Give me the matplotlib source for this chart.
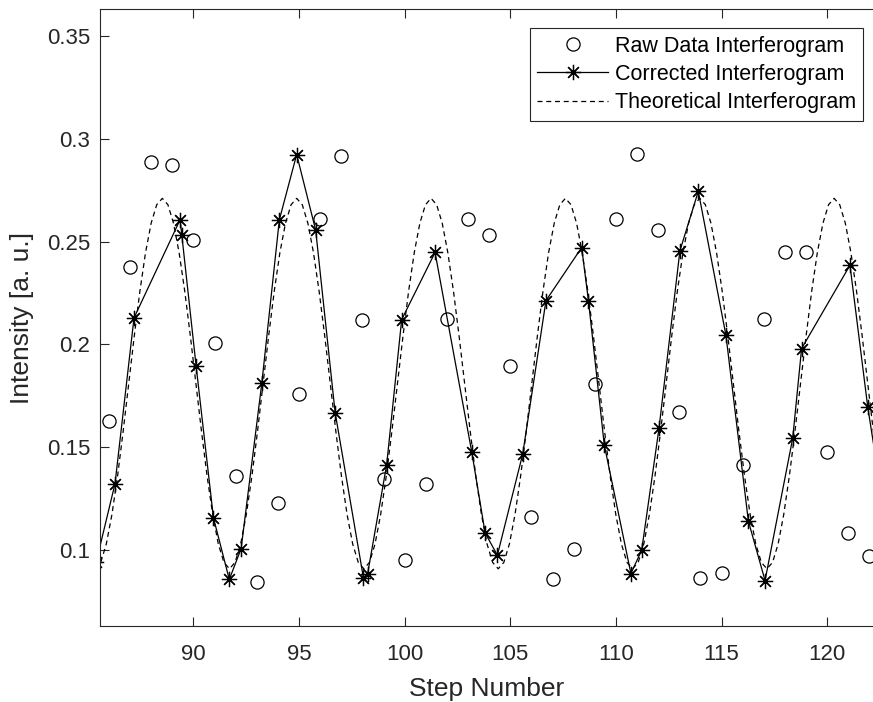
import numpy as np
import matplotlib.pyplot as plt

plt.rcParams['font.family'] = ['Liberation Sans', 'DejaVu Sans']

# Rohdaten (ganzzahlige Schritte)
raw_x = np.arange(86, 123)
raw_y = [0.1630, 0.2377, 0.2887, 0.2871, 0.2506, 0.2006, 0.1363, 0.0847, 0.1229,
         0.1758, 0.2611, 0.2914, 0.2121, 0.1347, 0.0955, 0.1323, 0.2124, 0.2608,
         0.2530, 0.1897, 0.1161, 0.0858, 0.1008, 0.1810, 0.2608, 0.2926, 0.2555,
         0.1671, 0.0866, 0.0890, 0.1416, 0.2124, 0.2450, 0.2450, 0.1476, 0.1084,
         0.0971]

# korrigiertes Interferogramm
corr_x = [85.40, 86.29, 87.19, 89.37, 89.45, 90.13, 90.95, 91.70, 92.26, 93.24,
          94.07, 94.89, 95.79, 96.71, 98.05, 98.25, 99.15, 99.86, 101.44, 103.18,
          103.81, 104.39, 105.59, 106.69, 108.38, 108.70, 109.45, 110.71, 111.22,
          112.04, 113.03, 113.90, 115.21, 116.27, 117.06, 118.37, 118.79, 121.08,
          121.92, 122.60]
corr_y = [0.0943, 0.1323, 0.2129, 0.2606, 0.2534, 0.1895, 0.1158, 0.0858, 0.1008,
          0.1812, 0.2606, 0.2923, 0.2555, 0.1669, 0.0866, 0.0887, 0.1416, 0.2121,
          0.2447, 0.1476, 0.1084, 0.0976, 0.1468, 0.2213, 0.2471, 0.2213, 0.1512,
          0.0887, 0.1000, 0.1592, 0.2455, 0.2744, 0.2044, 0.1142, 0.0853, 0.1545,
          0.1980, 0.2385, 0.1697, 0.1250]

# theoretisches Interferogramm (eine Periode pro Zeile)
theo_x = [85.35, 85.615, 85.88, 86.145, 86.41, 86.675, 86.94, 87.205, 87.47, 87.735, 88.00, 88.265,
          88.53, 88.795, 89.06, 89.325, 89.59, 89.855, 90.12, 90.385, 90.65, 90.915, 91.18, 91.445,
          91.71, 91.975, 92.24, 92.505, 92.77, 93.035, 93.30, 93.565, 93.83, 94.095, 94.36, 94.625,
          94.89, 95.155, 95.42, 95.685, 95.95, 96.215, 96.48, 96.745, 97.01, 97.275, 97.54, 97.805,
          98.07, 98.335, 98.60, 98.865, 99.13, 99.395, 99.66, 99.925, 100.19, 100.455, 100.72, 100.985,
          101.25, 101.515, 101.78, 102.045, 102.31, 102.575, 102.84, 103.105, 103.37, 103.635, 103.90, 104.165,
          104.43, 104.695, 104.96, 105.225, 105.49, 105.755, 106.02, 106.285, 106.55, 106.815, 107.08, 107.345,
          107.61, 107.875, 108.14, 108.405, 108.67, 108.935, 109.20, 109.465, 109.73, 109.995, 110.26, 110.525,
          110.79, 111.055, 111.32, 111.585, 111.85, 112.115, 112.38, 112.645, 112.91, 113.175, 113.44, 113.705,
          113.97, 114.235, 114.50, 114.765, 115.03, 115.295, 115.56, 115.825, 116.09, 116.355, 116.62, 116.885,
          117.15, 117.415, 117.68, 117.945, 118.21, 118.475, 118.74, 119.005, 119.27, 119.535, 119.80, 120.065,
          120.33, 120.595, 120.86, 121.125, 121.39, 121.655, 121.92, 122.185, 122.45]
theo_y = [0.0910, 0.0941, 0.1031, 0.1174, 0.1360, 0.1577, 0.1810, 0.2043, 0.2260, 0.2446, 0.2589, 0.2679,
          0.2710, 0.2679, 0.2589, 0.2446, 0.2260, 0.2043, 0.1810, 0.1577, 0.1360, 0.1174, 0.1031, 0.0941,
          0.0910, 0.0941, 0.1031, 0.1174, 0.1360, 0.1577, 0.1810, 0.2043, 0.2260, 0.2446, 0.2589, 0.2679,
          0.2710, 0.2679, 0.2589, 0.2446, 0.2260, 0.2043, 0.1810, 0.1577, 0.1360, 0.1174, 0.1031, 0.0941,
          0.0910, 0.0941, 0.1031, 0.1174, 0.1360, 0.1577, 0.1810, 0.2043, 0.2260, 0.2446, 0.2589, 0.2679,
          0.2710, 0.2679, 0.2589, 0.2446, 0.2260, 0.2043, 0.1810, 0.1577, 0.1360, 0.1174, 0.1031, 0.0941,
          0.0910, 0.0941, 0.1031, 0.1174, 0.1360, 0.1577, 0.1810, 0.2043, 0.2260, 0.2446, 0.2589, 0.2679,
          0.2710, 0.2679, 0.2589, 0.2446, 0.2260, 0.2043, 0.1810, 0.1577, 0.1360, 0.1174, 0.1031, 0.0941,
          0.0910, 0.0941, 0.1031, 0.1174, 0.1360, 0.1577, 0.1810, 0.2043, 0.2260, 0.2446, 0.2589, 0.2679,
          0.2710, 0.2679, 0.2589, 0.2446, 0.2260, 0.2043, 0.1810, 0.1577, 0.1360, 0.1174, 0.1031, 0.0941,
          0.0910, 0.0941, 0.1031, 0.1174, 0.1360, 0.1577, 0.1810, 0.2043, 0.2260, 0.2446, 0.2589, 0.2679,
          0.2710, 0.2679, 0.2589, 0.2446, 0.2260, 0.2043, 0.1810, 0.1577, 0.1360]

xticks = [90, 95, 100, 105, 110, 115, 120]
yticks = [0.1, 0.15, 0.2, 0.25, 0.3, 0.35]
ytick_labels = ['0.1', '0.15', '0.2', '0.25', '0.3', '0.35']

dark = '#262626'

fig = plt.figure(figsize=(8.73, 7.02), dpi=100)
ax = fig.add_axes([100/873, 1 - 626/702, 1 - 100/873, (626 - 9)/702])

ax.plot(raw_x, raw_y, linestyle='none', marker='o', markersize=9.5,
        markerfacecolor='none', markeredgecolor='k', markeredgewidth=0.9,
        label='Raw Data Interferogram')
ax.plot(corr_x, corr_y, color='k', linewidth=0.9, marker=(8, 2, 0),
        markersize=11, markeredgewidth=0.9, label='Corrected Interferogram')
ax.plot(theo_x, theo_y, color='k', linewidth=0.9, dashes=(4, 3),
        label='Theoretical Interferogram')

ax.set_xlim(85.58, 122.17)
ax.set_ylim(0.0632, 0.363)
ax.set_xticks(xticks)
ax.set_yticks(yticks)
ax.set_yticklabels(ytick_labels)

ax.tick_params(direction='in', length=6.5, width=0.8, color=dark,
               labelsize=16, labelcolor=dark, top=True, right=False)
ax.tick_params(axis='x', pad=13)
ax.tick_params(axis='y', pad=7)
for s in ['left', 'bottom', 'top']:
    ax.spines[s].set_color(dark)
    ax.spines[s].set_linewidth(0.8)
ax.spines['right'].set_visible(False)

ax.set_xlabel('Step Number', fontsize=19, color=dark)
ax.set_ylabel('Intensity [a. u.]', fontsize=19, color=dark)
ax.xaxis.set_label_coords(0.5, -0.082)
ax.yaxis.set_label_coords(-0.086, 0.5)

leg = ax.legend(loc='upper right', bbox_to_anchor=(863.3/873, 1 - 28.3/702),
                bbox_transform=fig.transFigure, borderaxespad=0,
                fontsize=15.5, fancybox=False, framealpha=1, edgecolor=dark,
                handlelength=3.3, handletextpad=0.3, labelspacing=0.33,
                borderpad=0.35)
leg.get_frame().set_linewidth(0.8)

fig.savefig('out.png', dpi=100)
